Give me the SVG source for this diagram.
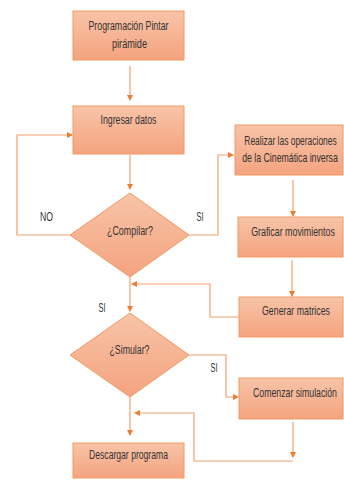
<svg xmlns="http://www.w3.org/2000/svg" width="344" height="480" viewBox="0 0 344 480">
<defs>
<linearGradient id="g" x1="0" y1="0" x2="0" y2="1">
<stop offset="0" stop-color="#f8c4a8"/>
<stop offset="1" stop-color="#f4a37f"/>
</linearGradient>
<marker id="ar" markerWidth="6" markerHeight="6" refX="5" refY="3" orient="auto" markerUnits="userSpaceOnUse">
<path d="M0,0 L6,3 L0,6 Z" fill="#ed7d31"/>
</marker>
<style>
.box{fill:url(#g);stroke:#f19a62;stroke-width:1}
.t{font-family:"Liberation Sans",Arial,sans-serif;font-size:12.5px;fill:#333;text-anchor:middle}
.c2{fill:none;stroke:#f3a070;stroke-width:1.2;marker-end:url(#ar)}
</style>
</defs>
<rect width="344" height="480" fill="#fff"/>
<g id="connectors">
<path class="c2" d="M130,66 V100"/>
<path class="c2" d="M130,155 V189"/>
<path class="c2" d="M70,235 H17 V135 H72"/>
<path class="c2" d="M189,235 H218 V155 H233"/>
<path class="c2" d="M293,180 V216"/>
<path class="c2" d="M292,260 V296"/>
<path class="c2" d="M239,317 H210 V284 H132"/>
<path class="c2" d="M130,277 V311"/>
<path class="c2" d="M189,355 H226 V397 H238"/>
<path class="c2" d="M293,422 V457"/>
<path class="c2" d="M293,461 H194 V413 H135"/>
<path class="c2" d="M130,397 V435"/>
</g>
<g id="n1"><rect class="box" x="73" y="11" width="111" height="49"/><text class="t" x="128.5" y="30" textLength="80" lengthAdjust="spacingAndGlyphs">Programación Pintar</text><text class="t" x="129.5" y="48" textLength="35" lengthAdjust="spacingAndGlyphs">pirámide</text></g>
<g id="n2"><rect class="box" x="73" y="106" width="111" height="48"/><text class="t" x="128.5" y="124" textLength="56" lengthAdjust="spacingAndGlyphs">Ingresar datos</text></g>
<g id="n3"><path class="box" d="M130,193 L189,235 L130,277 L70,235 Z"/><text class="t" x="130" y="235" textLength="46" lengthAdjust="spacingAndGlyphs">¿Compilar?</text></g>
<g id="n4"><rect class="box" x="235" y="125" width="108" height="50"/><text class="t" transform="translate(290.5,145) scale(0.675,1)">Realizar las operaciones</text><text class="t" transform="translate(290,162) scale(0.7,1)">de la Cinemática inversa</text></g>
<g id="n5"><rect class="box" x="238" y="217" width="105" height="40"/><text class="t" transform="translate(293,236) scale(0.71,1)">Graficar movimientos</text></g>
<g id="n6"><rect class="box" x="239" y="297" width="104" height="40"/><text class="t" transform="translate(296,315) scale(0.705,1)">Generar matrices</text></g>
<g id="n7"><path class="box" d="M130,313 L189,355 L130,397 L70,355 Z"/><text class="t" x="129.5" y="354" textLength="40" lengthAdjust="spacingAndGlyphs">¿Simular?</text></g>
<g id="n8"><rect class="box" x="239" y="378" width="104" height="41"/><text class="t" transform="translate(295,397) scale(0.7,1)">Comenzar simulación</text></g>
<g id="n9"><rect class="box" x="73" y="443" width="111" height="35"/><text class="t" x="128.5" y="459" textLength="79" lengthAdjust="spacingAndGlyphs">Descargar programa</text></g>
<g id="labels">
<text class="t" x="46.5" y="221" textLength="13" lengthAdjust="spacingAndGlyphs">NO</text>
<text class="t" x="200" y="221" textLength="7" lengthAdjust="spacingAndGlyphs">SI</text>
<text class="t" x="102" y="312" textLength="7" lengthAdjust="spacingAndGlyphs">SI</text>
<text class="t" x="214" y="372" textLength="7" lengthAdjust="spacingAndGlyphs">SI</text>
</g>
</svg>
